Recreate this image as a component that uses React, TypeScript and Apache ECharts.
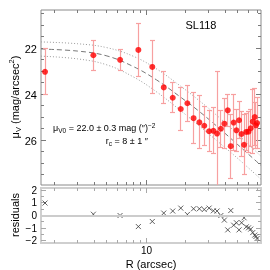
import React, { useEffect, useRef } from 'react';
import * as echarts from 'echarts';

// ---- data ----
const radius = [1.685, 3.94, 6.3, 8.69, 11.1, 13.58, 15.9, 18.31, 20.56, 22.93, 25.39, 27.67, 30.11, 32.48, 34.65, 37.05, 39.39, 41.82, 44.1, 46.4, 48.7, 51.0, 53.3, 55.7, 57.9, 60.2, 62.6, 64.9, 67.2, 68.6, 70.0];
const surfBright = [23.02, 22.3, 22.5, 22.07, 22.81, 23.7, 24.15, 24.64, 24.39, 25.04, 25.22, 25.37, 25.61, 25.59, 25.71, 25.5, 25.28, 24.7, 26.26, 25.23, 25.57, 25.13, 25.73, 26.2, 25.64, 25.63, 25.48, 25.19, 24.99, 25.35, 25.25];
const surfErr = [1.0, 0.65, 0.45, 1.15, 1.17, 0.7, 0.65, 0.94, 0.78, 1.1, 1.15, 0.85, 0.9, 1.0, 2.7, 0.8, 1.1, 0.7, 1.4, 1.2, 0.9, 0.8, 1.0, 1.3, 0.8, 0.9, 0.8, 1.4, 1.26, 1.0, 1.1];
const residuals = [0.98, 0.1, 0.0, -0.87, -0.47, 0.19, 0.35, 0.58, 0.08, 0.53, 0.53, 0.47, 0.58, 0.37, 0.35, 0.0, -0.36, -1.13, 0.39, -0.76, -0.57, -1.13, -0.57, -0.18, -0.89, -0.97, -1.07, -1.34, -1.54, -1.65, -1.81];

const modelR = [1.57, 3, 5, 8, 12, 18, 25, 35, 50, 75];
const modelBest = [22.03, 22.12, 22.33, 22.8, 23.38, 24.1, 24.72, 25.42, 26.2, 27.1];
const modelUpper = [21.72, 21.8, 21.97, 22.35, 22.9, 23.62, 24.25, 24.95, 25.75, 26.7];
const modelLower = [22.34, 22.46, 22.72, 23.25, 23.9, 24.68, 25.35, 26.05, 26.8, 27.7];

const xTicks = [2, 3, 4, 5, 6, 7, 8, 9, 10, 20, 30, 40, 50, 60, 70];
const xMajor = [10];
const xTickLabels: Record<string, string> = { '10': '10' };
const yMainTicks = [20.5, 21, 21.5, 22, 22.5, 23, 23.5, 24, 24.5, 25, 25.5, 26, 26.5, 27, 27.5];
const yMainMajor = [22, 24, 26];
const yMainLabels: Record<string, string> = { '22': '22', '24': '24', '26': '26' };
const residTicks = [-2, -1.5, -1, -0.5, 0, 0.5, 1, 1.5, 2];
const residMajor = [-2, -1, 0, 1, 2];
const residLabels: Record<string, string> = { '-2': '−2', '-1': '−1', '0': '0', '1': '1', '2': '2' };

const FONT = '"Liberation Sans", Arial, Helvetica, sans-serif';
const ERR_COLOR = '#f7a0a0';
const crisp = (v: number) => Math.round(v - 0.5) + 0.5;

function xTickItem(color: string, withLabels: boolean) {
  return (params: any, api: any) => {
    const cs = params.coordSys;
    const v = xTicks[params.dataIndex];
    const px = crisp(api.coord([v, api.value(1)])[0]);
    const len = xMajor.includes(v) ? 5 : 3;
    const children: any[] = [
      { type: 'line', shape: { x1: px, y1: cs.y, x2: px, y2: cs.y + len }, style: { stroke: color, lineWidth: 1 } },
      { type: 'line', shape: { x1: px, y1: cs.y + cs.height, x2: px, y2: cs.y + cs.height - len }, style: { stroke: color, lineWidth: 1 } },
    ];
    const lab = xTickLabels[String(v)];
    if (withLabels && lab) {
      children.push({
        type: 'text', x: px, y: cs.y + cs.height + 7,
        style: { text: lab, fill: '#000', font: `10px ${FONT}`, align: 'center', verticalAlign: 'middle', textAlign: 'center', textVerticalAlign: 'middle' },
      });
    }
    return { type: 'group', children };
  };
}

function yTickItem(ticks: number[], majors: number[], labels: Record<string, string>, color: string, fontSize: number) {
  return (params: any, api: any) => {
    const cs = params.coordSys;
    const v = ticks[params.dataIndex];
    const py = crisp(api.coord([api.value(0), v])[1]);
    const len = majors.includes(v) ? 5 : 3;
    const children: any[] = [
      { type: 'line', shape: { x1: cs.x, y1: py, x2: cs.x + len, y2: py }, style: { stroke: color, lineWidth: 1 } },
      { type: 'line', shape: { x1: cs.x + cs.width, y1: py, x2: cs.x + cs.width - len, y2: py }, style: { stroke: color, lineWidth: 1 } },
    ];
    const lab = labels[String(v)];
    if (lab) {
      children.push({
        type: 'text', x: cs.x - 4, y: py,
        style: { text: lab, fill: '#000', font: `${fontSize}px ${FONT}`, align: 'right', verticalAlign: 'middle', textAlign: 'right', textVerticalAlign: 'middle' },
      });
    }
    return { type: 'group', children };
  };
}

export default function App() {
  const ref = useRef<HTMLDivElement>(null);
  useEffect(() => {
    if (!ref.current) return;
    const chart = echarts.init(ref.current, undefined, { renderer: 'svg' });
    const hidden = { axisLine: { show: false }, axisTick: { show: false }, axisLabel: { show: false }, splitLine: { show: false } };
    const richBase = {
      a: { fontSize: 9, fontFamily: FONT, color: '#000' },
      s: { fontSize: 6.5, fontFamily: FONT, color: '#000', padding: [5, 0, 0, 0] },
      p: { fontSize: 6.5, fontFamily: FONT, color: '#000', padding: [0, 0, 6, 0] },
    };
    const option: any = {
      animation: false,
      grid: [
        { left: 41, top: 10, width: 220, height: 175, show: true, borderColor: '#8a8a8a', borderWidth: 1, backgroundColor: 'transparent' },
        { left: 41, top: 188, width: 220, height: 55, show: true, borderColor: '#cfcfcf', borderWidth: 2, backgroundColor: 'transparent' },
      ],
      xAxis: [
        { type: 'log', logBase: 10, gridIndex: 0, min: 1.57, max: 75, ...hidden },
        { type: 'log', logBase: 10, gridIndex: 1, min: 1.57, max: 75, ...hidden },
      ],
      yAxis: [
        { type: 'value', gridIndex: 0, inverse: true, min: 20.33, max: 27.95, ...hidden },
        { type: 'value', gridIndex: 1, min: -2.16, max: 2.16, ...hidden },
      ],
      graphic: [
        { type: 'text', x: 201, y: 25, style: { text: 'SL118', font: `11px ${FONT}`, fill: '#000', align: 'center', verticalAlign: 'middle', textAlign: 'center', textVerticalAlign: 'middle' } },
        {
          type: 'text', x: 53, y: 128,
          style: {
            text: '{a|μ}{s|V0}{a| = 22.0 ± 0.3 mag (″)}{p|−2}', rich: richBase,
            font: `9px ${FONT}`, fill: '#000', align: 'left', verticalAlign: 'middle', textAlign: 'left', textVerticalAlign: 'middle',
          },
        },
        {
          type: 'text', x: 148, y: 141,
          style: {
            text: '{a|r}{s|c}{a| = 8 ± 1 ″}', rich: richBase,
            font: `9px ${FONT}`, fill: '#000', align: 'right', verticalAlign: 'middle', textAlign: 'right', textVerticalAlign: 'middle',
          },
        },
        {
          type: 'text', x: 15, y: 97, rotation: Math.PI / 2,
          style: {
            text: '{a|μ}{s|V}{a| (mag/arcsec}{p|2}{a|)}',
            rich: {
              a: { fontSize: 11, fontFamily: FONT, color: '#000' },
              s: { fontSize: 7.5, fontFamily: FONT, color: '#000', padding: [6, 0, 0, 0] },
              p: { fontSize: 7.5, fontFamily: FONT, color: '#000', padding: [0, 0, 7, 0] },
            },
            font: `11px ${FONT}`, fill: '#000', align: 'center', verticalAlign: 'middle', textAlign: 'center', textVerticalAlign: 'middle',
          },
        },
        { type: 'text', x: 15, y: 215, rotation: Math.PI / 2, style: { text: 'residuals', font: `11px ${FONT}`, fill: '#000', align: 'center', verticalAlign: 'middle', textAlign: 'center', textVerticalAlign: 'middle' } },
        { type: 'text', x: 151, y: 263.5, style: { text: 'R (arcsec)', font: `11px ${FONT}`, fill: '#000', align: 'center', verticalAlign: 'middle', textAlign: 'center', textVerticalAlign: 'middle' } },
      ],
      series: [
        { type: 'custom', xAxisIndex: 0, yAxisIndex: 0, data: xTicks.map((v) => [v, 24]), renderItem: xTickItem('#7a7a7a', false), silent: true, z: 1 },
        { type: 'custom', xAxisIndex: 0, yAxisIndex: 0, data: yMainTicks.map((v) => [10, v]), renderItem: yTickItem(yMainTicks, yMainMajor, yMainLabels, '#7a7a7a', 11), silent: true, z: 1 },
        { type: 'custom', xAxisIndex: 1, yAxisIndex: 1, data: xTicks.map((v) => [v, 0]), renderItem: xTickItem('#a8a8a8', true), silent: true, z: 1 },
        { type: 'custom', xAxisIndex: 1, yAxisIndex: 1, data: residTicks.map((v) => [10, v]), renderItem: yTickItem(residTicks, residMajor, residLabels, '#a8a8a8', 10), silent: true, z: 1 },
        {
          type: 'line', xAxisIndex: 0, yAxisIndex: 0, data: modelR.map((r, i) => [r, modelUpper[i]]), smooth: 0.4, showSymbol: false, symbol: 'none',
          lineStyle: { color: '#9a9a9a', width: 1, type: [1, 2] }, silent: true, z: 2,
        },
        {
          type: 'line', xAxisIndex: 0, yAxisIndex: 0, data: modelR.map((r, i) => [r, modelLower[i]]), smooth: 0.4, showSymbol: false, symbol: 'none',
          lineStyle: { color: '#9a9a9a', width: 1, type: [1, 2] }, silent: true, z: 2,
        },
        {
          type: 'line', xAxisIndex: 0, yAxisIndex: 0, data: modelR.map((r, i) => [r, modelBest[i]]), smooth: 0.4, showSymbol: false, symbol: 'none',
          lineStyle: { color: '#777777', width: 1, type: [5, 3] }, silent: true, z: 2,
        },
        {
          type: 'custom', xAxisIndex: 0, yAxisIndex: 0, clip: true, silent: true, z: 3,
          itemStyle: { color: ERR_COLOR, borderColor: ERR_COLOR },
          data: radius.map((r, i) => [r, surfBright[i] - surfErr[i], surfBright[i] + surfErr[i]]),
          renderItem: (params: any, api: any) => {
            const top = api.coord([api.value(0), api.value(1)]);
            const bot = api.coord([api.value(0), api.value(2)]);
            const x = crisp(top[0]);
            const st = { stroke: ERR_COLOR, lineWidth: 1.2, fill: 'none', opacity: 1 };
            return {
              type: 'group',
              children: [
                { type: 'line', shape: { x1: x, y1: top[1], x2: x, y2: bot[1] }, style: st },
                { type: 'line', shape: { x1: x - 2.5, y1: crisp(top[1]), x2: x + 2.5, y2: crisp(top[1]) }, style: st },
                { type: 'line', shape: { x1: x - 2.5, y1: crisp(bot[1]), x2: x + 2.5, y2: crisp(bot[1]) }, style: st },
              ],
            };
          },
        },
        {
          type: 'scatter', xAxisIndex: 0, yAxisIndex: 0, data: radius.map((r, i) => [r, surfBright[i]]),
          symbol: 'circle', symbolSize: 6, itemStyle: { color: '#ff0000' }, silent: true, z: 4,
        },
        {
          type: 'scatter', xAxisIndex: 1, yAxisIndex: 1, data: radius.map((r, i) => [r, residuals[i]]),
          symbol: 'path://M0,0L10,10M10,0L0,10', symbolSize: 5,
          itemStyle: { color: 'none', borderColor: '#3a3a3a', borderWidth: 1 }, silent: true, z: 4,
          markLine: {
            silent: true, symbol: 'none', label: { show: false },
            lineStyle: { color: '#cccccc', width: 2, type: 'solid' },
            data: [{ yAxis: 0 }],
          },
        },
      ],
    };
    chart.setOption(option);
    return () => chart.dispose();
  }, []);
  return <div ref={ref} style={{ position: 'fixed', left: 0, top: 0, width: 270, height: 270 }} />;
}
